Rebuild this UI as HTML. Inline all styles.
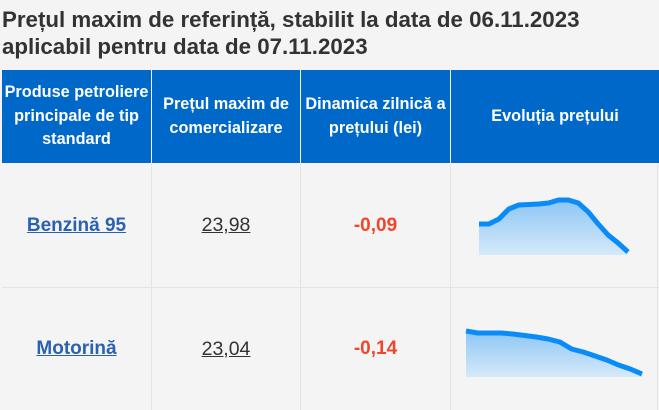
<!DOCTYPE html>
<html><head><meta charset="utf-8">
<style>
*{margin:0;padding:0;box-sizing:border-box}
body{width:659px;height:410px;background:#f4f4f4;font-family:"Liberation Sans",sans-serif;position:relative;overflow:hidden;color:#333}
h1{position:absolute;left:2px;top:6px;font-size:22.3px;line-height:27px;font-weight:bold;color:#333;white-space:nowrap}
.hdr{position:absolute;top:70px;height:93px;background:#0068c8;color:#fff;font-weight:bold;font-size:16.3px;line-height:23.5px;display:flex;align-items:center;justify-content:center;text-align:center}
.cell{position:absolute;display:flex;align-items:center;justify-content:center;border-right:1px solid #e4e4e4}
.row-line{position:absolute;left:2px;width:657px;height:1px;background:#e4e4e4}
a{color:#2a62b0;font-weight:bold;font-size:19px;text-decoration:underline}
.price{font-size:19.5px;color:#333;text-decoration:underline}
.dyn{font-size:19px;color:#f0462c;font-weight:bold}
svg{position:absolute;left:0;top:0}
</style></head><body>
<h1>Prețul maxim de referință, stabilit la data de 06.11.2023<br>aplicabil pentru data de 07.11.2023</h1>
<div class="hdr" style="left:2px;width:149px">Produse petroliere principale de tip standard</div>
<div class="hdr" style="left:152px;width:148px">Prețul maxim de comercializare</div>
<div class="hdr" style="left:301px;width:149px">Dinamica zilnică a prețului (lei)</div>
<div class="hdr" style="left:451px;width:208px">Evoluția prețului</div>

<div class="cell" style="left:2px;top:164px;width:150px;height:123px"><a href="#">Benzină 95</a></div>
<div class="cell" style="left:152px;top:164px;width:149px;height:123px"><span class="price">23,98</span></div>
<div class="cell" style="left:301px;top:164px;width:150px;height:123px"><span class="dyn">-0,09</span></div>
<div class="row-line" style="top:287px"></div>
<div class="cell" style="left:2px;top:288px;width:150px;height:122px"><a href="#">Motorină</a></div>
<div class="cell" style="left:152px;top:288px;width:149px;height:122px"><span class="price">23,04</span></div>
<div class="cell" style="left:301px;top:288px;width:150px;height:122px"><span class="dyn">-0,14</span></div>
<div style="position:absolute;left:657px;top:164px;width:1px;height:246px;background:#e4e4e4"></div>

<svg id="spark" width="659" height="410">
<defs><linearGradient id="g" x1="0" y1="0" x2="0" y2="1"><stop offset="0" stop-color="#8cc6f4"/><stop offset="1" stop-color="#d6e9f9"/></linearGradient></defs>
</svg>
<script>
const benzinaPrices=[24.26,24.26,24.31,24.41,24.45,24.455,24.46,24.47,24.50,24.50,24.47,24.38,24.26,24.15,24.07,23.98];
const motorinaPrices=[23.47,23.45,23.45,23.45,23.44,23.425,23.41,23.39,23.36,23.29,23.26,23.22,23.18,23.13,23.09,23.04];
const svg=document.getElementById('spark');
const NS='http://www.w3.org/2000/svg';
function draw(vals,x0,x1,yTop,yBot,fillBot,name){
  const mn=Math.min(...vals),mx=Math.max(...vals);
  const xs=i=>x0+(x1-x0)*i/(vals.length-1);
  const ys=v=>yBot-(v-mn)/((mx-mn)||1)*(yBot-yTop);
  const pts=vals.map((v,i)=>xs(i).toFixed(1)+','+ys(v).toFixed(1));
  const area=document.createElementNS(NS,'polygon');
  area.setAttribute('points',x0+','+fillBot+' '+pts.join(' ')+' '+x1+','+fillBot);
  area.setAttribute('fill','url(#g)');
  
  
  svg.appendChild(area);
  const line=document.createElementNS(NS,'polyline');
  line.setAttribute('points',pts.join(' '));
  line.setAttribute('fill','none');
  line.setAttribute('stroke','#0a8cf8');
  line.setAttribute('stroke-width','5');
  line.setAttribute('stroke-linejoin','round');
  
  
  svg.appendChild(line);
}
draw(benzinaPrices,479,628,200,252,255,'benzina-sparkline');
draw(motorinaPrices,466,642,331,374,377,'motorina-sparkline');
</script>
</body></html>
